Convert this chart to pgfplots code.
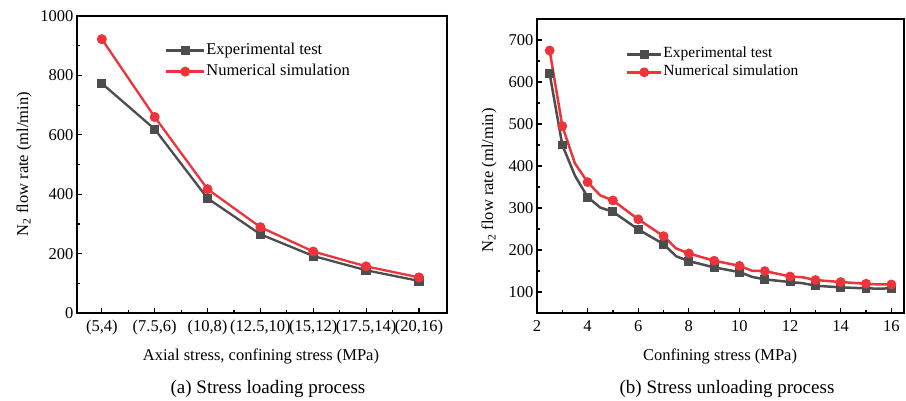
\documentclass[border=0pt]{standalone}
\usepackage{fontspec}
\setmainfont{Liberation Serif}
\usepackage{pgfplots}
\pgfplotsset{compat=1.18}
\definecolor{expc}{RGB}{77,77,77}
\definecolor{simc}{RGB}{236,52,58}
\pgfplotstableread{
x exp sim
0 773 922
1 619 660
2 386 417
3 265 289
4 192 207
5 144 157
6 108 120
}\loadtab
\pgfplotstableread{
x exp
2.5 620
3 450
3.5 377
4 326
4.5 301
5 291
6 249
7 214
7.5 185
8 173.5
9 158.6
10 147.4
10.5 136
11 130
12 123.7
12.5 121
13 115
14 111
15 108.7
15.5 108
16 108.7
}\unlexp
\pgfplotstableread{
x sim
2.5 675
3 495
3.5 406
4 361.6
4.5 330
5 318
6 273
7 233
7.5 203.6
8 191.8
9 174.4
10 162.4
10.5 150.5
11 149.8
12 137
12.5 135
13 128.5
14 123.7
15 119.7
15.5 118
16 118
}\unlsim
\begin{document}
\begin{tikzpicture}
\path[use as bounding box] (0pt,0pt) rectangle (906pt,400pt);
\pgfplotsset{
  every axis/.append style={
    scale only axis,
    axis line style={line width=1.6pt, black},
    tick align=inside,
    xtick pos=bottom, ytick pos=left,
    major tick length=5pt, minor tick length=3pt,
    every tick/.style={line width=1.2pt, black},
    tick label style={font=\fontsize{16.5}{16.5}\selectfont},
    xticklabel style={yshift=-4pt},
    /pgf/number format/assume math mode=true,
    /pgf/number format/set thousands separator={},
    legend cell align=left,
  },
}
\begin{axis}[
  at={(77pt,87pt)}, anchor=south west,
  width=370pt, height=297pt,
  xmin=-0.47, xmax=6.53, ymin=0, ymax=1000,
  xtick={0,...,6},
  xticklabels={(5,4),(7.5,6),(10,8),(12.5,10),(15,12),(17.5,14),(20,16)},
  minor x tick num=1,
  ytick={0,200,...,1000}, minor y tick num=1,
  legend style={draw=none, fill=none, inner sep=0pt, outer sep=0pt,
    at={(rel axis cs:0.238,0.912)}, anchor=north west,
    font=\fontsize{16.5}{18}\selectfont,
    nodes={inner sep=1pt, text height=11pt, text depth=4pt},
    row sep=4pt},
  legend image code/.code={\draw[#1,mark=none] plot coordinates {(0pt,0pt) (38pt,0pt)}; \draw[#1] plot coordinates {(19pt,0pt)};},
]
\addplot[color=expc, line width=2.3pt, mark=square*, mark size=3.5pt] table[x=x,y=exp]{\loadtab};
\addlegendentry{Experimental test}
\addplot[color=simc, line width=2.3pt, mark=*, mark size=3.8pt] table[x=x,y=sim]{\loadtab};
\addlegendentry{Numerical simulation}
\end{axis}
\begin{axis}[
  at={(537pt,87pt)}, anchor=south west,
  width=367pt, height=294pt,
  xmin=2, xmax=16.5, ymin=50, ymax=750,
  xtick={2,4,...,16}, minor x tick num=1,
  ytick={100,200,...,700}, minor y tick num=1,
  legend style={draw=none, fill=none, inner sep=0pt, outer sep=0pt,
    at={(rel axis cs:0.2425,0.908)}, anchor=north west,
    font=\fontsize{15.5}{17}\selectfont,
    nodes={inner sep=1pt, text height=10.5pt, text depth=4pt},
    row sep=1.5pt},
  legend image code/.code={\draw[#1,mark=none] plot coordinates {(0pt,0pt) (34pt,0pt)}; \draw[#1] plot coordinates {(17pt,0pt)};},
]
\addplot[color=expc, line width=2.5pt, mark=square*, mark size=3.2pt,
  mark indices={1,2,4,6,7,8,10,11,12,14,15,17,18,19,21}] table[x=x,y=exp]{\unlexp};
\addlegendentry{Experimental test}
\addplot[color=simc, line width=2.5pt, mark=*, mark size=3.6pt,
  mark indices={1,2,4,6,7,8,10,11,12,14,15,17,18,19,21}] table[x=x,y=sim]{\unlsim};
\addlegendentry{Numerical simulation}
\end{axis}
\node[rotate=90, anchor=base, font=\fontsize{16.5}{18}\selectfont] at (28pt,236pt) {N\textsubscript{2} flow rate (ml/min)};
\node[rotate=90, anchor=base, font=\fontsize{16.5}{18}\selectfont] at (493pt,219.5pt) {N\textsubscript{2} flow rate (ml/min)};
\node[anchor=base, font=\fontsize{16.5}{18}\selectfont] at (261pt,40pt) {Axial stress, confining stress (MPa)};
\node[anchor=base, font=\fontsize{16.5}{18}\selectfont] at (720pt,39.5pt) {Confining stress (MPa)};
\node[anchor=base, font=\fontsize{19}{21}\selectfont] at (268pt,7pt) {(a) Stress loading process};
\node[anchor=base, font=\fontsize{19}{21}\selectfont] at (727pt,7pt) {(b) Stress unloading process};
\end{tikzpicture}
\end{document}
